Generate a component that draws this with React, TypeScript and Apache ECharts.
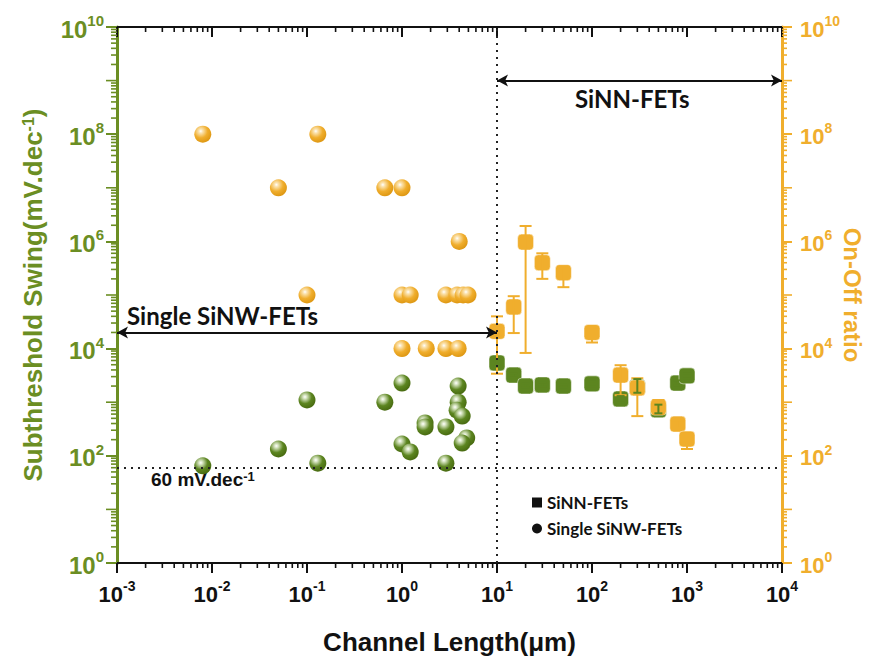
import React, { useEffect, useRef } from 'react';
import * as echarts from 'echarts';

const GREEN = '#6b8e23';
const GREEN_MARK = '#5c8520';
const GREEN_EDGE = '#46680f';
const YELLOW = '#f0ae2d';
const YELLOW_EDGE = '#dc9510';
const BLACK = '#111111';

// Axis ranges and tick labels (decades)
const xTickExponents = [-3, -2, -1, 0, 1, 2, 3, 4];
const yTickExponents = [0, 2, 4, 6, 8, 10];

// Single SiNW-FETs: on-off ratio (right axis)
const nwOnOffLength = [0.008, 0.05, 0.13, 0.66, 1.0, 0.1, 4.0, 1.0, 1.22, 2.9, 3.8, 4.4, 4.95, 1.0, 1.8, 2.9, 3.9];
const nwOnOffRatio = [1e8, 1e7, 1e8, 1e7, 1e7, 1e5, 1e6, 1e5, 1e5, 1e5, 1e5, 1e5, 1e5, 1e4, 1e4, 1e4, 1e4];

// Single SiNW-FETs: subthreshold swing (left axis)
const nwSSLength = [0.008, 0.05, 0.1, 0.13, 0.66, 1.0, 1.0, 1.22, 1.75, 1.75, 2.9, 2.9, 3.9, 3.9, 3.8, 4.3, 4.8, 4.3];
const nwSS = [65, 134, 1100, 73, 1000, 2270, 166, 118, 410, 345, 345, 73, 2000, 1000, 710, 550, 215, 173];

// SiNN-FETs
const nnLength = [10, 15, 20, 30, 50, 100, 200, 300, 500, 800, 1000];
const nnOnOff = [2.1e4, 6e4, 9.7e5, 4e5, 2.6e5, 2e4, 3200, 1850, 810, 390, 205];
const nnOnOffLow = [3400, 1.95e4, 8300, 2e5, 1.4e5, 1.3e4, 1350, 550, 600, 330, 134];
const nnOnOffHigh = [4e4, 9.5e4, 1.94e6, 6e5, 3.4e5, 2.5e4, 4900, 2800, 1100, 450, 260];
const nnSS = [5400, 3200, 2000, 2100, 2000, 2200, 1150, 1900, 720, 2270, 3100];
const nnSSLow = [4600, 2900, 1850, 1950, 1850, 2000, 1000, 1500, 620, 2050, 2800];
const nnSSHigh = [6300, 3500, 2200, 2300, 2150, 2450, 1300, 2700, 900, 2550, 3500];

// Reference lines / annotations
const idealSS = 60;
const boundaryLength = 10;
const nnArrowLevel = 1e9;
const nwArrowLevel = 2e4;

const X_MIN = 1e-3, X_MAX = 1e4, Y_MIN = 1, Y_MAX = 1e10;

const sphere = (hi: string, base: string, edge: string) => ({
  type: 'radial', x: 0.38, y: 0.32, r: 0.72,
  colorStops: [
    { offset: 0, color: '#ffffff' },
    { offset: 0.16, color: hi },
    { offset: 0.55, color: base },
    { offset: 1, color: edge },
  ],
});

function buildTicks() {
  const out: number[][] = [];
  // x minor ticks (bottom: kind 0, top: kind 1)
  for (let e = xTickExponents[0]; e < xTickExponents[xTickExponents.length - 1]; e++) {
    for (let m = 2; m <= 9; m++) {
      const v = m * Math.pow(10, e);
      out.push([v, Y_MIN, 0, 5]);
      out.push([v, Y_MAX, 1, 5]);
    }
  }
  // y ticks (left: kind 2, right: kind 3)
  for (let e = yTickExponents[0]; e < yTickExponents[yTickExponents.length - 1]; e++) {
    if (e % 2 === 1) {
      const v = Math.pow(10, e);
      out.push([X_MIN, v, 2, 11]);
      out.push([X_MAX, v, 3, 10]);
    }
    for (let m = 2; m <= 9; m++) {
      const v = m * Math.pow(10, e);
      out.push([X_MIN, v, 2, 6]);
      out.push([X_MAX, v, 3, 5]);
    }
  }
  return out;
}

const supFmt = (v: number) => `{b|10}{s|${Math.round(Math.log10(v))}}`;

export default function App() {
  const ref = useRef<HTMLDivElement>(null);
  useEffect(() => {
    if (!ref.current) return;
    const chart = echarts.init(ref.current, null, { renderer: 'svg' });
    const FONT = 'Liberation Sans, Arial, sans-serif';
    const ANN = 'Lato, Open Sans, sans-serif';

    const richLabel = (color: string, size: number, supSize: number) => ({
      b: { fontFamily: FONT, fontWeight: 'bold', fontSize: size, color, lineHeight: size + 4, verticalAlign: 'bottom' },
      s: { fontFamily: FONT, fontWeight: 'bold', fontSize: supSize, color, lineHeight: supSize, verticalAlign: 'top' },
    });

    const option: any = {
      animation: false,
      backgroundColor: '#ffffff',
      grid: { left: 117, right: 88, top: 27, bottom: 94, containLabel: false, outerBoundsMode: 'none' },
      legend: {
        orient: 'vertical', left: 527, top: 489, itemWidth: 10, itemHeight: 10, itemGap: 9,
        selectedMode: false,
        data: [
          { name: 'SiNN-FETs', icon: 'rect', itemStyle: { color: BLACK, borderWidth: 0 } },
          { name: 'Single SiNW-FETs', icon: 'circle', itemStyle: { color: BLACK, borderWidth: 0 } },
        ],
        textStyle: { fontFamily: ANN, fontWeight: 'bold', fontSize: 17, color: BLACK },
      },
      xAxis: [
        {
          type: 'log', logBase: 10, min: X_MIN, max: X_MAX, interval: 1, position: 'bottom',
          name: 'Channel Length(\u03bcm)', nameLocation: 'middle', nameGap: 66, nameMoveOverlap: false,
          nameTextStyle: { fontFamily: FONT, fontWeight: 'bold', fontSize: 26, color: BLACK },
          axisLine: { show: true, onZero: false, lineStyle: { color: BLACK, width: 2 } },
          axisTick: { show: true, inside: false, length: 10, lineStyle: { color: BLACK, width: 2 } },
          axisLabel: { margin: 16, formatter: supFmt, rich: richLabel(BLACK, 22, 14) },
          splitLine: { show: false },
        },
        {
          type: 'log', logBase: 10, min: X_MIN, max: X_MAX, interval: 1, position: 'top',
          axisLine: { show: true, onZero: false, lineStyle: { color: BLACK, width: 2 } },
          axisTick: { show: true, inside: true, length: 10, lineStyle: { color: BLACK, width: 2 } },
          axisLabel: { show: false },
          splitLine: { show: false },
        },
      ],
      yAxis: [
        {
          type: 'log', logBase: 10, min: Y_MIN, max: Y_MAX, interval: 2, position: 'left',
          name: 'Subthreshold Swing(mV.dec{s|-1})', nameLocation: 'middle', nameGap: 71, nameMoveOverlap: false,
          nameTextStyle: {
            fontFamily: FONT, fontWeight: 'bold', fontSize: 26, color: GREEN,
            rich: { s: { fontFamily: FONT, fontWeight: 'bold', fontSize: 16, color: GREEN, verticalAlign: 'top', lineHeight: 16 } },
          },
          axisLine: { show: true, onZero: false, lineStyle: { color: GREEN, width: 3 } },
          axisTick: { show: true, inside: false, length: 11, lineStyle: { color: GREEN, width: 2 } },
          axisLabel: { margin: 13, formatter: supFmt, rich: richLabel(GREEN, 24, 15) },
          splitLine: { show: false },
        },
        {
          type: 'log', logBase: 10, min: Y_MIN, max: Y_MAX, interval: 2, position: 'right',
          name: 'On-Off ratio', nameLocation: 'middle', nameGap: 58, nameRotate: -90, nameMoveOverlap: false,
          nameTextStyle: { fontFamily: FONT, fontWeight: 'bold', fontSize: 24, color: YELLOW },
          axisLine: { show: true, onZero: false, lineStyle: { color: YELLOW, width: 3 } },
          axisTick: { show: true, inside: false, length: 10, lineStyle: { color: YELLOW, width: 2 } },
          axisLabel: { margin: 18, formatter: supFmt, rich: richLabel(YELLOW, 22, 14) },
          splitLine: { show: false },
        },
      ],
      graphic: [
        {
          type: 'text', left: 575, top: 86, silent: true,
          style: { text: 'SiNN-FETs', fontFamily: ANN, fontWeight: 'bold', fontSize: 24, fill: BLACK },
        },
        {
          type: 'text', left: 127, top: 303, silent: true,
          style: { text: 'Single SiNW-FETs', fontFamily: ANN, fontWeight: 'bold', fontSize: 24, fill: BLACK },
        },
        {
          type: 'text', left: 151, top: 470, silent: true,
          style: {
            text: '60 mV.dec{s|-1}', fontFamily: FONT, fontWeight: 'bold', fontSize: 19, fill: BLACK,
            rich: { s: { fontFamily: FONT, fontWeight: 'bold', fontSize: 13, fill: BLACK, verticalAlign: 'top', lineHeight: 12 } },
          },
        },
      ],
      series: [
        {
          name: 'ticks', type: 'custom', xAxisIndex: 0, yAxisIndex: 0, clip: false, silent: true, z: 3,
          encode: { x: 0, y: 1 },
          data: buildTicks(),
          renderItem: (params: any, api: any) => {
            const p = api.coord([api.value(0), api.value(1)]);
            const kind = api.value(2), len = api.value(3);
            let x2 = p[0], y2 = p[1], color = BLACK;
            if (kind === 0) { y2 = p[1] + len; }
            else if (kind === 1) { y2 = p[1] + len; }
            else if (kind === 2) { x2 = p[0] - len; color = GREEN; }
            else { x2 = p[0] + len; color = YELLOW; }
            return { type: 'line', shape: { x1: p[0], y1: p[1], x2, y2 }, style: { stroke: color, lineWidth: 1.6 } };
          },
        },
        {
          name: 'Single SiNW-FETs', type: 'scatter', xAxisIndex: 0, yAxisIndex: 1,
          symbol: 'circle', symbolSize: 17,
          itemStyle: { color: sphere('#fbe3b0', YELLOW, YELLOW_EDGE), opacity: 1 },
          data: nwOnOffLength.map((x, i) => [x, nwOnOffRatio[i]]),
        },
        {
          name: 'Single SiNW-FETs', type: 'scatter', xAxisIndex: 0, yAxisIndex: 0,
          symbol: 'circle', symbolSize: 17,
          itemStyle: { color: sphere('#d5e3bf', GREEN_MARK, GREEN_EDGE), opacity: 1 },
          data: nwSSLength.map((x, i) => [x, nwSS[i]]),
          markLine: {
            silent: true, symbol: 'none', animation: false,
            label: { show: false },
            lineStyle: { color: '#222', type: [2, 5], width: 2 },
            data: [{ xAxis: boundaryLength }, { yAxis: idealSS }],
          },
        },
        {
          name: 'SiNN-FETs', type: 'scatter', xAxisIndex: 0, yAxisIndex: 0,
          symbol: 'roundRect', symbolSize: 16,
          itemStyle: { color: GREEN_MARK, borderColor: 'rgba(255,255,255,0.5)', borderWidth: 1, opacity: 1 },
          data: nnLength.map((x, i) => [x, nnSS[i]]),
        },
        {
          name: 'SiNN-FETs', type: 'scatter', xAxisIndex: 0, yAxisIndex: 1,
          symbol: 'roundRect', symbolSize: 16,
          itemStyle: { color: YELLOW, borderColor: 'rgba(255,255,255,0.5)', borderWidth: 1, opacity: 1 },
          data: nnLength.map((x, i) => [x, nnOnOff[i]]),
          markLine: {
            silent: true, animation: false,
            symbol: ['arrow', 'arrow'], symbolSize: [9, 11],
            label: { show: false },
            lineStyle: { color: BLACK, type: 'solid', width: 2 },
            data: [
              [{ coord: [boundaryLength, nnArrowLevel] }, { coord: [X_MAX, nnArrowLevel] }],
              [{ coord: [X_MIN, nwArrowLevel] }, { coord: [boundaryLength, nwArrowLevel] }],
            ],
          },
        },
        {
          name: 'onoff-err', type: 'custom', xAxisIndex: 0, yAxisIndex: 1, silent: true, z: 4,
          encode: { x: 0, y: [1, 2] },
          data: nnLength.map((x, i) => [x, nnOnOffLow[i], nnOnOffHigh[i]]),
          renderItem: (params: any, api: any) => {
            const x = api.value(0);
            const a = api.coord([x, api.value(1)]);
            const b = api.coord([x, api.value(2)]);
            const hw = 6;
            const st = { stroke: YELLOW, lineWidth: 2 };
            return {
              type: 'group', children: [
                { type: 'line', shape: { x1: a[0], y1: a[1], x2: b[0], y2: b[1] }, style: st },
                { type: 'line', shape: { x1: a[0] - hw, y1: a[1], x2: a[0] + hw, y2: a[1] }, style: st },
                { type: 'line', shape: { x1: b[0] - hw, y1: b[1], x2: b[0] + hw, y2: b[1] }, style: st },
              ],
            };
          },
        },
        {
          name: 'ss-err', type: 'custom', xAxisIndex: 0, yAxisIndex: 0, silent: true, z: 4,
          encode: { x: 0, y: [1, 2] },
          data: nnLength.map((x, i) => [x, nnSSLow[i], nnSSHigh[i]]),
          renderItem: (params: any, api: any) => {
            const x = api.value(0);
            const a = api.coord([x, api.value(1)]);
            const b = api.coord([x, api.value(2)]);
            const hw = 4;
            const st = { stroke: GREEN_MARK, lineWidth: 2 };
            return {
              type: 'group', children: [
                { type: 'line', shape: { x1: a[0], y1: a[1], x2: b[0], y2: b[1] }, style: st },
                { type: 'line', shape: { x1: a[0] - hw, y1: a[1], x2: a[0] + hw, y2: a[1] }, style: st },
                { type: 'line', shape: { x1: b[0] - hw, y1: b[1], x2: b[0] + hw, y2: b[1] }, style: st },
              ],
            };
          },
        },
      ],
    };
    chart.setOption(option);
    return () => chart.dispose();
  }, []);

  return (
    <div style={{ position: 'fixed', left: 0, top: 0, width: 870, height: 657, background: '#fff' }}>
      <div ref={ref} style={{ width: 870, height: 657 }} />
    </div>
  );
}
